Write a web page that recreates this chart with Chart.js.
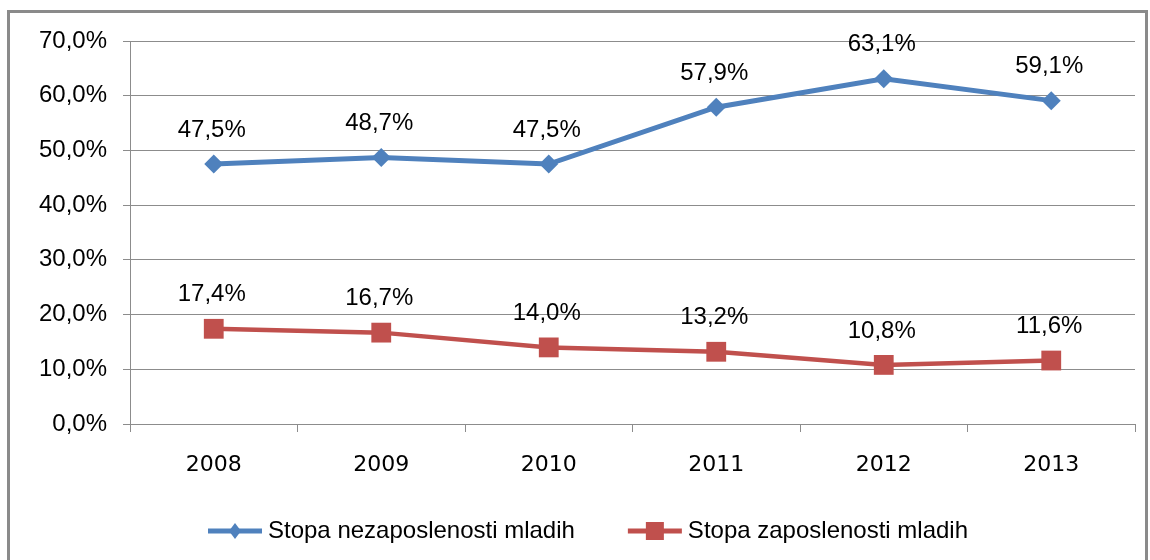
<!DOCTYPE html>
<html>
<head>
<meta charset="utf-8">
<script src="https://cdn.jsdelivr.net/npm/chart.js@4/dist/chart.umd.min.js"></script>
<style>
  html, body { margin: 0; padding: 0; background: #ffffff; width: 1150px; height: 560px; overflow: hidden; }
  #wrap { position: absolute; left: 0; top: 0; width: 1150px; height: 560px; }
  #frame { position: absolute; left: 7px; top: 10px; width: 1141px; height: 600px; border: 3px solid #8a8a8a; box-sizing: border-box; }
  canvas { position: absolute; left: 0; top: 0; }
</style>
</head>
<body>
<div id="wrap">
  <div id="frame"></div>
  <canvas id="c" width="1150" height="560"></canvas>
</div>
<script>
const categories = ['2008', '2009', '2010', '2011', '2012', '2013'];
const unemploymentLabel = 'Stopa nezaposlenosti mladih';
const unemploymentValues = [47.5, 48.7, 47.5, 57.9, 63.1, 59.1];
const employmentLabel = 'Stopa zaposlenosti mladih';
const employmentValues = [17.4, 16.7, 14.0, 13.2, 10.8, 11.6];
const yTickValues = [0, 10, 20, 30, 40, 50, 60, 70];

function fmt(v) { return v.toFixed(1).replace('.', ',') + '%'; }

const BLUE = '#4f81bd';
const RED = '#c0504d';
const GRID = '#8c8c8c';

const dataLabels = {
  id: 'dataLabels',
  afterDatasetsDraw(chart) {
    const ctx = chart.ctx;
    ctx.save();
    ctx.font = '24px "Liberation Sans", Arial, sans-serif';
    ctx.fillStyle = '#000000';
    ctx.textAlign = 'center';
    ctx.textBaseline = 'middle';
    chart.data.datasets.forEach((ds, i) => {
      const meta = chart.getDatasetMeta(i);
      meta.data.forEach((pt, j) => {
        ctx.fillText(fmt(ds.data[j]), pt.x - 2, pt.y - 34);
      });
    });
    ctx.restore();
  }
};

const customLegend = {
  id: 'customLegend',
  afterDraw(chart) {
    const ctx = chart.ctx;
    ctx.save();
    ctx.font = '24px "Liberation Sans", Arial, sans-serif';
    ctx.textBaseline = 'middle';
    ctx.textAlign = 'left';
    let x = 208;
    const y = 531;
    chart.data.datasets.forEach((ds) => {
      const lw = 54;
      ctx.strokeStyle = ds.borderColor;
      ctx.lineWidth = 5;
      ctx.beginPath();
      ctx.moveTo(x, y);
      ctx.lineTo(x + lw, y);
      ctx.stroke();
      ctx.fillStyle = ds.pointBackgroundColor;
      const cx = x + lw / 2;
      if (ds.pointStyle === 'rectRot') {
        ctx.beginPath();
        ctx.moveTo(cx, y - 8);
        ctx.lineTo(cx + 6, y);
        ctx.lineTo(cx, y + 8);
        ctx.lineTo(cx - 6, y);
        ctx.closePath();
        ctx.fill();
      } else {
        ctx.fillRect(cx - 9, y - 9, 18, 18);
      }
      ctx.fillStyle = '#000000';
      const tx = x + lw + 6;
      ctx.fillText(ds.label, tx, y);
      x = tx + ctx.measureText(ds.label).width + 53;
    });
    ctx.restore();
  }
};

new Chart(document.getElementById('c'), {
  type: 'line',
  data: {
    labels: categories,
    datasets: [
      {
        label: unemploymentLabel,
        data: unemploymentValues,
        borderColor: BLUE,
        backgroundColor: BLUE,
        pointBackgroundColor: BLUE,
        pointBorderColor: BLUE,
        pointStyle: 'rectRot',
        pointRadius: 9.5,
        pointBorderWidth: 0,
        borderWidth: 5,
        tension: 0
      },
      {
        label: employmentLabel,
        data: employmentValues,
        borderColor: RED,
        backgroundColor: RED,
        pointBackgroundColor: RED,
        pointBorderColor: RED,
        pointStyle: 'rect',
        pointRadius: 14,
        pointBorderWidth: 0,
        borderWidth: 4.5,
        tension: 0
      }
    ]
  },
  options: {
    responsive: false,
    animation: false,
    devicePixelRatio: 1,
    layout: { padding: { top: 41, right: 15, left: 0, bottom: 0 } },
    plugins: {
      legend: { display: false },
      tooltip: { enabled: false },
      title: { display: false }
    },
    scales: {
      x: {
        offset: true,
        grid: { offset: true, drawOnChartArea: false, drawTicks: true, tickLength: 8, color: GRID, lineWidth: 1 },
        border: { display: true, color: GRID, width: 1 },
        ticks: { color: '#000000', font: { family: '"DejaVu Sans", sans-serif', size: 22 }, padding: 20, maxRotation: 0 },
        afterFit(scale) { scale.height = 136; }
      },
      y: {
        min: 0,
        max: 70,
        afterBuildTicks(scale) { scale.ticks = yTickValues.map(v => ({ value: v })); },
        grid: { color: GRID, lineWidth: 1, tickLength: 7, drawTicks: true },
        border: { display: true, color: GRID, width: 1 },
        ticks: { color: '#000000', font: { family: '"Liberation Sans", Arial, sans-serif', size: 24 }, padding: 16, callback: (v) => fmt(v) },
        afterFit(scale) { scale.width = 130; }
      }
    }
  },
  plugins: [dataLabels, customLegend]
});
</script>
</body>
</html>
